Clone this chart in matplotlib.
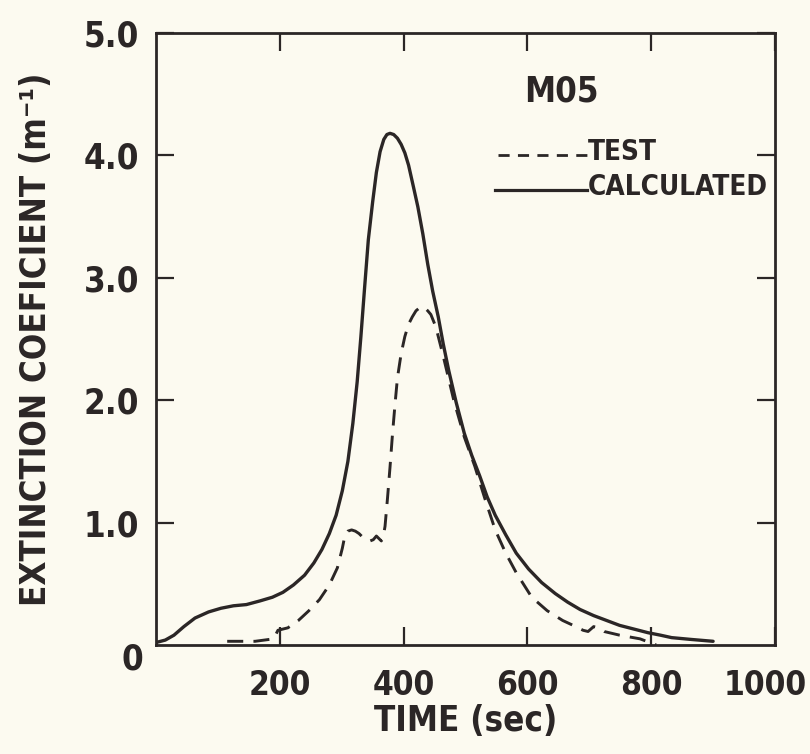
import matplotlib
matplotlib.use('Agg')
import matplotlib.pyplot as plt
from matplotlib import font_manager
from matplotlib.transforms import ScaledTranslation

# values
calc_time = [0, 15, 29, 45, 63, 85, 105, 125, 146, 168, 188, 205, 222, 240, 255,
             268, 280, 291, 301, 310, 318, 325, 331, 337, 343, 350, 356, 362,
             368, 373, 378, 384, 390, 396, 402, 408, 416, 423, 431, 439, 447,
             456, 464, 473, 485, 498, 510, 523, 535, 548, 565, 582, 602, 623,
             645, 665, 685, 707, 728, 749, 772, 795, 815, 833, 865, 900]
calc_ext = [0.02, 0.04, 0.08, 0.15, 0.22, 0.27, 0.30, 0.32, 0.33, 0.36, 0.39,
            0.43, 0.49, 0.57, 0.67, 0.78, 0.91, 1.06, 1.26, 1.50, 1.81, 2.15,
            2.52, 2.92, 3.31, 3.62, 3.86, 4.03, 4.13, 4.17, 4.18, 4.17, 4.14,
            4.09, 4.02, 3.92, 3.74, 3.58, 3.36, 3.11, 2.89, 2.68, 2.46, 2.24,
            1.98, 1.73, 1.55, 1.38, 1.21, 1.06, 0.90, 0.75, 0.62, 0.51, 0.42,
            0.35, 0.29, 0.24, 0.20, 0.16, 0.13, 0.10, 0.08, 0.06, 0.045, 0.03]

test_time = [115, 160, 190, 197, 213, 230, 247, 264, 280, 293, 301, 305, 310,
             316, 322, 328, 334, 340, 346, 351, 356, 360, 364, 367, 370, 374,
             378, 382, 386, 390, 396, 402, 408, 414, 420, 427, 433, 439, 444,
             452, 464, 481, 498, 515, 531, 548, 565, 582, 607, 632, 657, 674,
             690, 698, 707, 715, 724, 749, 782, 808]
test_ext = [0.03, 0.03, 0.05, 0.12, 0.14, 0.20, 0.28, 0.37, 0.49, 0.63, 0.79,
            0.89, 0.93, 0.94, 0.93, 0.91, 0.88, 0.86, 0.85, 0.86, 0.89, 0.87,
            0.85, 0.88, 0.97, 1.20, 1.45, 1.72, 1.96, 2.18, 2.38, 2.52, 2.62,
            2.68, 2.73, 2.76, 2.76, 2.73, 2.70, 2.60, 2.36, 2.00, 1.70, 1.46,
            1.20, 0.94, 0.75, 0.59, 0.39, 0.28, 0.20, 0.16, 0.12, 0.11, 0.15,
            0.14, 0.11, 0.08, 0.05, 0.0]

x_ticks = [200, 400, 600, 800, 1000]
x_labels = ['200', '400', '600', '800', '1000']
y_ticks = [1, 2, 3, 4, 5]
y_labels = ['1.0', '2.0', '3.0', '4.0', '5.0']

INK = '#2b2626'
BG = '#fcfaf0'

names = {f.name for f in font_manager.fontManager.ttflist}
if 'Liberation Sans Narrow' in names:
    FONT = ['Liberation Sans Narrow', 'DejaVu Sans']
else:
    FONT = ['DejaVu Sans']
plt.rcParams['font.family'] = FONT
plt.rcParams['font.stretch'] = 'condensed'
plt.rcParams['font.weight'] = 'bold'
plt.rcParams['axes.labelweight'] = 'bold'

fig = plt.figure(figsize=(8.1, 7.54), dpi=100, facecolor=BG)
ax = fig.add_axes([0.1926, 0.1446, 0.7642, 0.8117], facecolor=BG)

ax.plot(calc_time, calc_ext, color=INK, lw=2.4, solid_capstyle='round',
        solid_joinstyle='round')
ax.plot(test_time, test_ext, color=INK, lw=2.1, dashes=(5.5, 3.5))

ax.set_xlim(0, 1000)
ax.set_ylim(0, 5)
for s in ax.spines.values():
    s.set_linewidth(2.0)
    s.set_color(INK)

ax.set_xticks(x_ticks)
ax.set_xticklabels(x_labels)
ax.set_yticks(y_ticks)
ax.set_yticklabels(y_labels)
ax.tick_params(direction='in', length=13, width=1.6, color=INK, labelsize=25,
               labelcolor=INK, top=True, right=True)
ax.tick_params(axis='x', pad=17, labelsize=24)
ax.tick_params(axis='y', pad=12)

# keep the last x label inside the figure
last = ax.get_xticklabels()[-1]
last.set_transform(last.get_transform() + ScaledTranslation(-7 / 72, 0, fig.dpi_scale_trans))

# the zero label sits below the corner
ax.text(-0.021, -0.024, '0', transform=ax.transAxes, ha='right', va='center',
        fontsize=25, color=INK)

ax.set_xlabel('TIME (sec)', fontsize=25, color=INK, labelpad=2)
ax.set_ylabel('EXTINCTION COEFICIENT (m\u207b\u00b9)', fontsize=25, color=INK,
              labelpad=22)

# legend drawn like the original: short line samples and labels
ax.text(0.595, 0.905, 'M05', transform=ax.transAxes, ha='left', va='center',
        fontsize=25, color=INK)
ax.plot([0.553, 0.697], [0.80, 0.80], transform=ax.transAxes, color=INK,
        lw=2.0, dashes=(4, 3))
ax.text(0.698, 0.806, 'TEST', transform=ax.transAxes, ha='left', va='center',
        fontsize=20, color=INK)
ax.plot([0.548, 0.697], [0.743, 0.743], transform=ax.transAxes, color=INK,
        lw=2.3)
ax.text(0.698, 0.749, 'CALCULATED', transform=ax.transAxes, ha='left',
        va='center', fontsize=20, color=INK)

fig.savefig('out.png', dpi=100, facecolor=BG)
